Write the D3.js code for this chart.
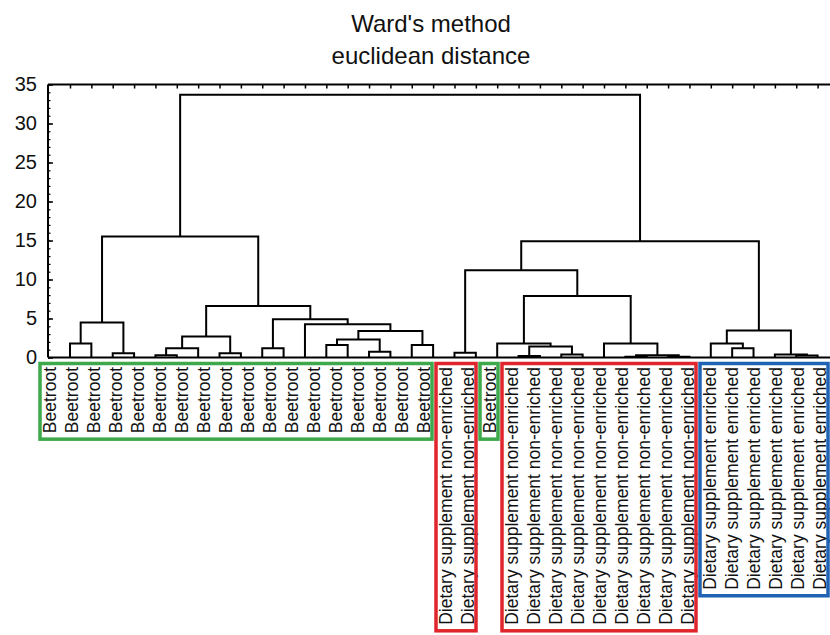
<!DOCTYPE html>
<html><head><meta charset="utf-8">
<script src="https://cdn.jsdelivr.net/npm/d3@7"></script>
<style>body{margin:0;background:#fff}svg{display:block}</style>
</head><body>
<svg id="chart" width="830" height="635"></svg>
<script>
// ---------- data ----------
const titleLines = ["Ward's method", "euclidean distance"];

const leafLabels = [
  "Beetroot","Beetroot","Beetroot","Beetroot","Beetroot","Beetroot",
  "Beetroot","Beetroot","Beetroot","Beetroot","Beetroot","Beetroot",
  "Beetroot","Beetroot","Beetroot","Beetroot","Beetroot","Beetroot",
  "Dietary supplement non-enriched","Dietary supplement non-enriched",
  "Beetroot",
  "Dietary supplement non-enriched","Dietary supplement non-enriched",
  "Dietary supplement non-enriched","Dietary supplement non-enriched",
  "Dietary supplement non-enriched","Dietary supplement non-enriched",
  "Dietary supplement non-enriched","Dietary supplement non-enriched",
  "Dietary supplement non-enriched",
  "Dietary supplement enriched","Dietary supplement enriched",
  "Dietary supplement enriched","Dietary supplement enriched",
  "Dietary supplement enriched","Dietary supplement enriched"
];

// linkage: [childA, childB, linkage distance]; ids >= 36 refer to earlier merges (36 + index)
const merges = [
  [0, 1, 1.8],    // 36
  [2, 3, 0.55],   // 37
  [36, 37, 4.5],  // 38
  [4, 5, 0.3],    // 39
  [39, 6, 1.2],   // 40
  [7, 8, 0.55],   // 41
  [40, 41, 2.7],  // 42
  [9, 10, 1.2],   // 43
  [12, 13, 1.6],  // 44
  [14, 15, 0.75], // 45
  [44, 45, 2.3],  // 46
  [16, 17, 1.6],  // 47
  [46, 47, 3.4],  // 48
  [11, 48, 4.25], // 49
  [43, 49, 4.9],  // 50
  [42, 50, 6.6],  // 51
  [38, 51, 15.5], // 52
  [18, 19, 0.6],  // 53
  [21, 22, 0.2],  // 54
  [23, 24, 0.4],  // 55
  [54, 55, 1.4],  // 56
  [20, 56, 1.8],  // 57
  [26, 27, 0.1],  // 58
  [28, 29, 0.1],  // 59
  [58, 59, 0.3],  // 60
  [25, 60, 1.8],  // 61
  [57, 61, 7.9],  // 62
  [53, 62, 11.2], // 63
  [31, 32, 1.2],  // 64
  [30, 64, 1.8],  // 65
  [34, 35, 0.25], // 66
  [33, 66, 0.4],  // 67
  [65, 67, 3.45], // 68
  [63, 68, 14.9], // 69
  [52, 69, 33.7]  // 70
];

const yMajorTicks = [0, 5, 10, 15, 20, 25, 30, 35];
const yMinorTicks = [0,1,2,3,4,5,6,7,8,9,10,11,12,13,14,15,16,17,18,19,20,21,22,23,24,25,26,27,28,29,30,31,32,33,34,35];

const boxGroups = [
  {first: 0,  last: 17, color: "#3da94a"},
  {first: 18, last: 19, color: "#e0262c"},
  {first: 20, last: 20, color: "#3da94a"},
  {first: 21, last: 29, color: "#e0262c"},
  {first: 30, last: 35, color: "#1f63b4"}
];

// ---------- drawing ----------
const svg = d3.select("#chart");
const FONT = "Liberation Sans, Arial, Helvetica, sans-serif";
const nLeaves = leafLabels.length;

const xTree = d3.scalePoint().domain(d3.range(nLeaves)).range([70, 817.6]);
const xLabel = d3.scalePoint().domain(d3.range(nLeaves)).range([50, 820]);
const y = d3.scaleLinear().domain([0, 35]).range([357.5, 84.5]);
const axisX = 48, rightX = 830;

// title
svg.append("g").selectAll("text").data(titleLines).join("text")
  .attr("x", 431).attr("y", (d, i) => 31.5 + i * 32.5)
  .attr("text-anchor", "middle")
  .attr("font-family", FONT).attr("font-size", 24).attr("fill", "#111")
  .text(d => d);

// positions of nodes
const pos = [];
for (let i = 0; i < nLeaves; i++) pos.push({x: xTree(i), h: 0});
merges.forEach(([a, b, h]) => pos.push({x: (pos[a].x + pos[b].x) / 2, h, a, b}));

// left axis (major ticks inward, with labels)
const yAxis = d3.axisLeft(y).tickValues(yMajorTicks).tickSize(-5).tickPadding(11).tickSizeOuter(0);
const gy = svg.append("g").attr("transform", `translate(${axisX},0)`).call(yAxis);
gy.select(".domain").remove();
gy.selectAll(".tick line").attr("stroke", "#000").attr("stroke-width", 1.5);
gy.selectAll(".tick text").attr("font-family", FONT).attr("font-size", 20).attr("fill", "#111");

// minor ticks
const yMinor = d3.axisLeft(y).tickValues(yMinorTicks).tickSize(-2.5).tickFormat("").tickSizeOuter(0);
const gm = svg.append("g").attr("transform", `translate(${axisX},0)`).call(yMinor);
gm.select(".domain").remove();
gm.selectAll(".tick line").attr("stroke", "#000").attr("stroke-width", 1.2);

// top axis ticks at leaves
const xTop = d3.axisTop(xTree).tickSize(-4).tickFormat("").tickSizeOuter(0);
const gt = svg.append("g").attr("transform", `translate(0,${y(35)})`).call(xTop);
gt.select(".domain").remove();
gt.selectAll(".tick line").attr("stroke", "#000").attr("stroke-width", 1.5);

// frame lines
const frame = svg.append("g").attr("stroke", "#000").attr("stroke-width", 2).attr("fill", "none");
frame.append("line").attr("x1", axisX).attr("x2", axisX).attr("y1", y(35)).attr("y2", y(0));
frame.append("line").attr("x1", axisX).attr("x2", rightX).attr("y1", y(35)).attr("y2", y(35));
frame.append("line").attr("x1", axisX).attr("x2", rightX).attr("y1", y(0)).attr("y2", y(0));

// dendrogram links
svg.append("g").attr("fill", "none").attr("stroke", "#000").attr("stroke-width", 2)
  .selectAll("path").data(pos.slice(nLeaves)).join("path")
  .attr("d", d => {
    const A = pos[d.a], B = pos[d.b];
    return `M${A.x},${y(A.h)}V${y(d.h)}H${B.x}V${y(B.h)}`;
  });

// leaf labels
const labelTop = 367;
const labels = svg.append("g").selectAll("text").data(leafLabels).join("text")
  .attr("transform", (d, i) => `translate(${xLabel(i)},${labelTop}) rotate(-90)`)
  .attr("dy", "0.36em")
  .attr("text-anchor", "end")
  .attr("font-family", FONT).attr("font-size", 17.5).attr("fill", "#111")
  .text(d => d);

const lengths = labels.nodes().map(n => n.getComputedTextLength());

// group boxes
svg.append("g").attr("fill", "none").attr("stroke-width", 3.5)
  .selectAll("rect").data(boxGroups).join("rect")
  .attr("stroke", d => d.color)
  .attr("x", d => xLabel(d.first) - 10)
  .attr("width", d => xLabel(d.last) - xLabel(d.first) + 18)
  .attr("y", 363.5)
  .attr("height", d => {
    const maxLen = d3.max(d3.range(d.first, d.last + 1), i => lengths[i]);
    return labelTop + maxLen + 6 - 363.5;
  });
</script>
</body></html>
